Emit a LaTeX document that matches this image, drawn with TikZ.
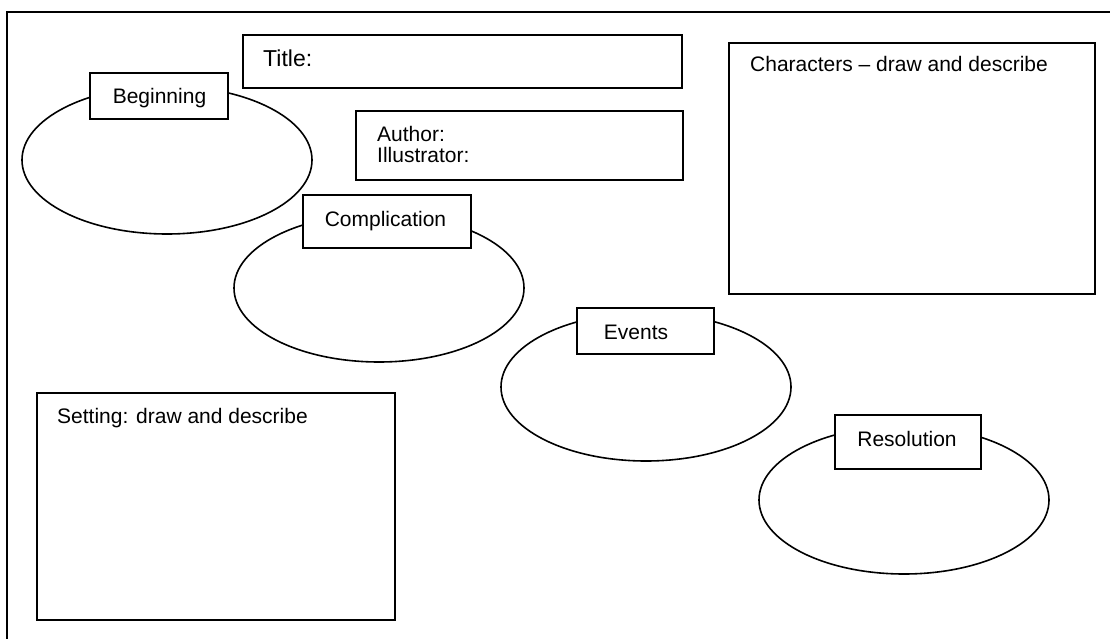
\documentclass[tikz,border=0pt]{standalone}
\usepackage{fontspec}
\setmainfont{Liberation Sans}
\usetikzlibrary{shapes.geometric}
\begin{document}
\begin{tikzpicture}[x=1pt,y=-1pt,
  frame/.style={line width=2pt, draw=black},
  panel/.style={rectangle, draw=black, line width=2pt, fill=white, inner sep=0pt},
  oval/.style={ellipse, draw=black, line width=1.6pt, inner sep=0pt, minimum width=290pt, minimum height=148pt},
  lbl/.style={font=\fontsize{21}{22}\selectfont, inner sep=0pt, anchor=base},
  lblw/.style={font=\fontsize{21}{22}\selectfont, inner sep=0pt, anchor=base west},
  ttl/.style={font=\fontsize{23}{24}\selectfont, inner sep=0pt, anchor=base west}]
\useasboundingbox (0,0) rectangle (1110,639);
\fill[white] (0,0) rectangle (1110,639);
% outer frame
\coordinate (fbl) at (7,639);
\coordinate (ftl) at (7,12);
\coordinate (ftr) at (1110,12);
\draw[frame] (fbl) -- (ftl) -- (ftr);
% ellipses
\node[oval] (begE) at (167,160) {};
\node[oval] (comE) at (379,288) {};
\node[oval] (evE) at (646,387) {};
\node[oval] (resE) at (904,500) {};
% label boxes
\node[panel, minimum width=138pt, minimum height=46pt] (begB) at (159,96) {};
\node[lbl] (begT) at (159.5,104) {Beginning};
\node[panel, minimum width=168pt, minimum height=53pt] (comB) at (387,221.5) {};
\node[lbl] (comT) at (385.5,226) {Complication};
\node[panel, minimum width=137pt, minimum height=46pt] (evB) at (645.5,331) {};
\node[lbl] (evT) at (636,339) {Events};
\node[panel, minimum width=146pt, minimum height=54pt] (resB) at (908,442) {};
\node[lbl] (resT) at (907,446) {Resolution};
% title
\node[panel, minimum width=439pt, minimum height=53pt] (titleB) at (462.5,61.5) {};
\node[ttl] (titleT) at (263,67) {Title:};
% author
\node[panel, minimum width=327pt, minimum height=69pt] (authB) at (519.5,145.5) {};
\node[lblw] (authT) at (377,142) {Author:};
\node[lblw] (illT) at (377,163) {Illustrator:};
% characters
\node[panel, minimum width=366pt, minimum height=251pt] (charB) at (912,168.5) {};
\node[lblw] (charT) at (750,72) {Characters – draw and describe};
% setting
\node[panel, minimum width=358pt, minimum height=227pt] (setB) at (216,506.5) {};
\node[lblw] (setT) at (57,423) {Setting: draw and describe};
\end{tikzpicture}
\end{document}
